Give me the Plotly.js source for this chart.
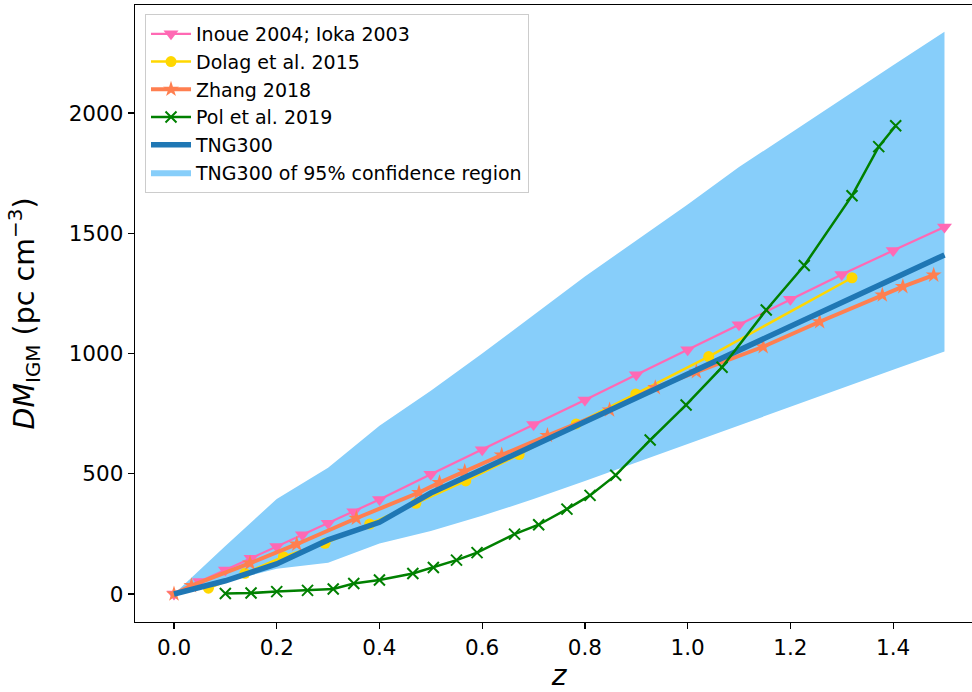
<!DOCTYPE html>
<html>
<head>
<meta charset="utf-8">
<script src="https://cdn.plot.ly/plotly-3.0.1.min.js"></script>
<style>
html,body{margin:0;padding:0;overflow:hidden;background:#fff;}
#chart{width:990px;height:692px;}
</style>
</head>
<body>
<div id="chart"></div>
<script>
// ---- data ----
const inoueZ  = [0,0.05,0.1,0.15,0.2,0.25,0.3,0.35,0.4,0.5,0.6,0.7,0.8,0.9,1.0,1.1,1.2,1.3,1.4,1.5];
const inoueDM = [0,52,100,149,197,246,294,342,393,498,600,705,807,912,1016,1120,1226,1328,1428,1526];

const dolagZ  = [0.067,0.138,0.213,0.294,0.381,0.471,0.568,0.672,0.783,0.899,1.041,1.32];
const dolagDM = [24,86,155,211,291,377,470,580,707,832,987,1315];

const zhangZ  = [0,0.034,0.148,0.239,0.355,0.477,0.517,0.566,0.638,0.727,0.848,0.937,1.017,1.147,1.257,1.379,1.419,1.479];
const zhangDM = [0,35,128,207,315,422,463,510,578,659,765,858,924,1028,1132,1243,1278,1326];

const polZ  = [0.1,0.15,0.2,0.26,0.31,0.35,0.4,0.465,0.505,0.55,0.59,0.663,0.71,0.765,0.81,0.86,0.927,0.997,1.067,1.153,1.227,1.32,1.372,1.405];
const polDM = [2,4,10,15,21,44,58,85,110,141,172,249,288,353,410,494,640,786,943,1181,1366,1656,1860,1947];

const tngZ  = [0,0.1,0.2,0.3,0.4,0.5,0.6,0.7,0.8,0.9,1.0,1.1,1.2,1.3,1.4,1.5];
const tngDM = [0,55,125,225,298,420,518,617,716,815,914,1013,1112,1211,1310,1410];
const tngUpper = [0,200,395,525,700,845,1000,1160,1320,1470,1620,1775,1917,2057,2198,2338];
const tngLower = [0,50,105,130,210,262,325,395,470,545,625,700,777,855,932,1008];

const xTickVals = [0,0.2,0.4,0.6,0.8,1.0,1.2,1.4];
const yTickVals = [0,500,1000,1500,2000];

// ---- traces ----
const bandX = tngZ.concat(tngZ.slice().reverse());
const bandY = tngUpper.concat(tngLower.slice().reverse());

const traces = [
  {x: bandX, y: bandY, type:'scatter', mode:'lines', fill:'toself',
   fillcolor:'#87CEFA', line:{width:0, color:'#87CEFA'},
   name:'TNG300 of 95% confidence region', legendrank:6, hoverinfo:'skip'},
  {x: inoueZ, y: inoueDM, type:'scatter', mode:'lines+markers',
   name:'Inoue 2004; Ioka 2003', legendrank:1,
   line:{color:'#FF69B4', width:2.2},
   marker:{symbol:'triangle-down', size:13, color:'#FF69B4'}},
  {x: dolagZ, y: dolagDM, type:'scatter', mode:'lines+markers',
   name:'Dolag et al. 2015', legendrank:2,
   line:{color:'#FFD700', width:2.5},
   marker:{symbol:'circle', size:11, color:'#FFD700'}},
  {x: zhangZ, y: zhangDM, type:'scatter', mode:'lines+markers',
   name:'Zhang 2018', legendrank:3,
   line:{color:'#FF7F50', width:4},
   marker:{symbol:'star', size:12, color:'#FF7F50'}},
  {x: tngZ, y: tngDM, type:'scatter', mode:'lines',
   name:'TNG300', legendrank:5,
   line:{color:'#1f77b4', width:5.5}},
  {x: polZ, y: polDM, type:'scatter', mode:'lines+markers',
   name:'Pol et al. 2019', legendrank:4,
   line:{color:'#008000', width:2.5},
   marker:{symbol:'x-thin', size:11, color:'#008000', line:{color:'#008000', width:2}}}
];

const W = 990, H = 692;
const layout = {
  width: W, height: H,
  margin: {l:135, r:6.5, t:5, b:70, pad:0},
  paper_bgcolor:'#ffffff', plot_bgcolor:'#ffffff',
  font: {family:'DejaVu Sans', size:21, color:'#000'},
  showlegend: true,
  legend: {x:0.0118, y:0.9854, xanchor:'left', yanchor:'top',
           bgcolor:'rgba(255,255,255,0.8)', bordercolor:'#cccccc', borderwidth:1,
           font:{family:'DejaVu Sans', size:19, color:'#000'},
           traceorder:'normal', itemwidth:40},
  xaxis: {range:[-0.0759, 1.575], tickvals:xTickVals, tickformat:'.1f', automargin:false,
          showgrid:false, zeroline:false, showline:true, mirror:true,
          linecolor:'#000', linewidth:1.3, ticks:'outside', ticklen:6, tickwidth:1.2,
          tickcolor:'#000', tickfont:{size:21.5},
          title:{text:'<i>z</i>', font:{size:28}, standoff:17}},
  yaxis: {range:[-116.4, 2449], tickvals:yTickVals, automargin:false,
          showgrid:false, zeroline:false, showline:true, mirror:true,
          linecolor:'#000', linewidth:1.3, ticks:'outside', ticklen:6, tickwidth:1.2,
          tickcolor:'#000', tickfont:{size:21.5},
          title:{text:'<i>DM</i><sub>IGM</sub> (pc cm<sup>−3</sup>)', font:{size:28.5}, standoff:25}}
};

Plotly.newPlot('chart', traces, layout, {displayModeBar:false, staticPlot:true});
</script>
</body>
</html>
